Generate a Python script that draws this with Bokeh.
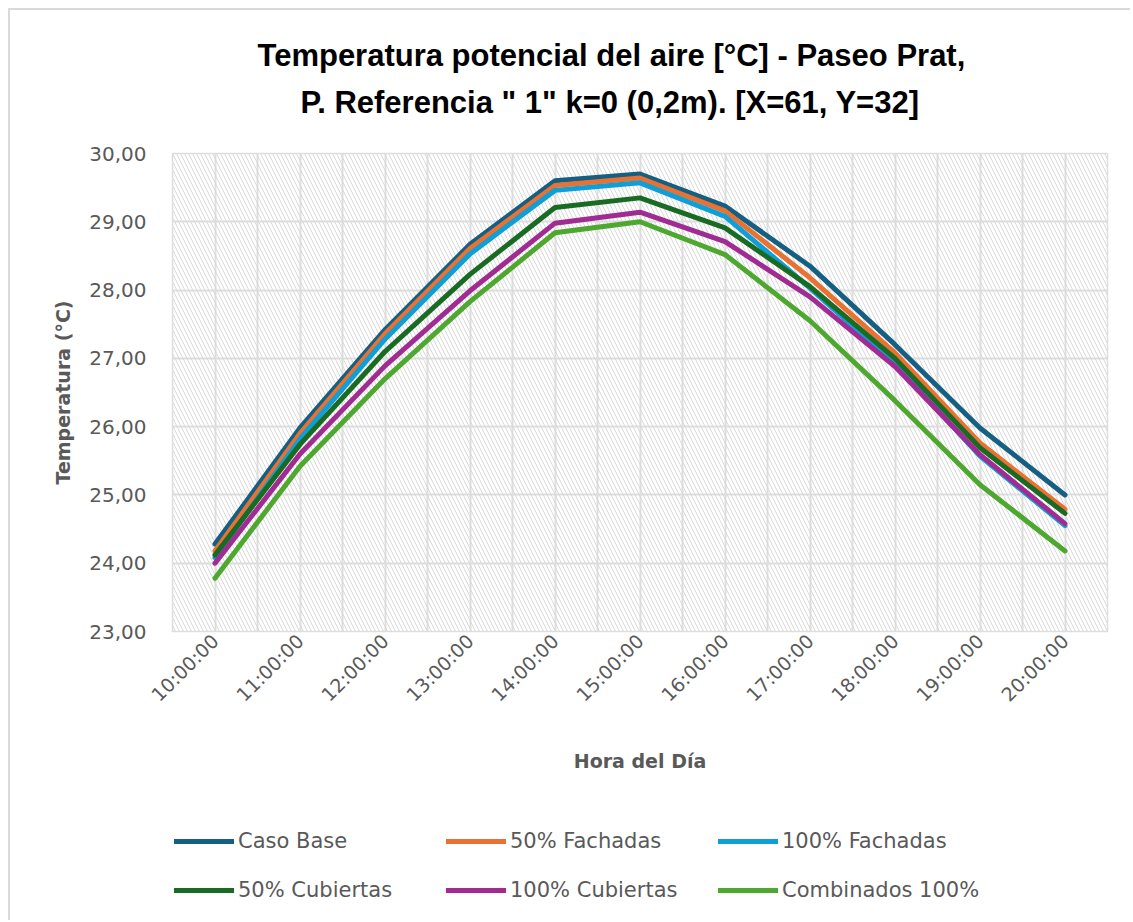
from bokeh.plotting import figure
from bokeh.layouts import column
from bokeh.models import (FactorRange, Range1d, FixedTicker, Legend, LegendItem,
                          BoxAnnotation, Title)
from bokeh.embed import file_html
from bokeh.resources import INLINE

hours = ["10:00:00", "11:00:00", "12:00:00", "13:00:00", "14:00:00", "15:00:00",
         "16:00:00", "17:00:00", "18:00:00", "19:00:00", "20:00:00"]

caso_base = [24.28, 25.98, 27.42, 28.67, 29.60, 29.70, 29.23, 28.35, 27.20, 25.98, 25.00]
fachadas_50 = [24.18, 25.90, 27.36, 28.61, 29.53, 29.64, 29.16, 28.18, 27.08, 25.76, 24.79]
fachadas_100 = [24.08, 25.82, 27.28, 28.53, 29.46, 29.57, 29.08, 28.03, 26.92, 25.57, 24.55]
cubiertas_50 = [24.12, 25.74, 27.10, 28.23, 29.21, 29.35, 28.91, 28.05, 27.00, 25.69, 24.73]
cubiertas_100 = [24.00, 25.60, 26.89, 27.99, 28.98, 29.14, 28.71, 27.90, 26.88, 25.59, 24.58]
combinados_100 = [23.78, 25.42, 26.70, 27.83, 28.84, 29.00, 28.52, 27.55, 26.38, 25.15, 24.18]

series_names = ["Caso Base", "50% Fachadas", "100% Fachadas",
                "50% Cubiertas", "100% Cubiertas", "Combinados 100%"]
series_values = [caso_base, fachadas_50, fachadas_100, cubiertas_50, cubiertas_100, combinados_100]
series_colors = ["#156082", "#E97132", "#0F9ED5", "#196B24", "#A02B93", "#4EA72E"]

y_ticks = [23, 24, 25, 26, 27, 28, 29, 30]
y_tick_labels = ["23,00", "24,00", "25,00", "26,00", "27,00", "28,00", "29,00", "30,00"]

title_lines = ["Temperatura potencial del aire [°C] - Paseo Prat,",
               "P. Referencia \" 1\" k=0 (0,2m). [X=61, Y=32]"]
x_title = "Hora del Día"
y_title = "Temperatura (°C)"

GRID = "#dedede"
TXT = "#595959"
FONT = "DejaVu Sans"
TFONT = "Liberation Sans"

p = figure(width=1120, height=812, output_backend="svg", toolbar_location=None,
           x_range=FactorRange(factors=hours, range_padding=0),
           y_range=Range1d(23, 30),
           min_border_left=162, min_border_right=23, min_border_top=143,
           min_border_bottom=191)

p.outline_line_color = GRID
p.outline_line_width = 1.5
p.background_fill_color = "white"

# hatched plot-area background
p.add_layout(BoxAnnotation(left=0, right=11, bottom=23, top=30,
                           fill_alpha=0, line_alpha=0,
                           hatch_pattern="\\", hatch_color="#d9d9d9",
                           hatch_scale=8, hatch_weight=1, level="underlay"))

# grids
p.xgrid.ticker = FixedTicker(ticks=[i * 0.5 for i in range(23)])
p.xgrid.grid_line_color = GRID
p.xgrid.grid_line_width = 2
p.ygrid.ticker = FixedTicker(ticks=y_ticks)
p.ygrid.grid_line_color = GRID
p.ygrid.grid_line_width = 2

for name, vals, col in zip(series_names, series_values, series_colors):
    p.line(x=hours, y=vals, line_color=col, line_width=5,
           line_join="round", line_cap="round", name=name)

# axes
p.yaxis.ticker = FixedTicker(ticks=y_ticks)
p.yaxis.major_label_overrides = {t: l for t, l in zip(y_ticks, y_tick_labels)}
for ax in (p.xaxis, p.yaxis):
    ax.axis_line_color = None
    ax.major_tick_line_color = None
    ax.minor_tick_line_color = None
    ax.major_tick_in = 0
    ax.major_tick_out = 0
    ax.major_label_text_color = TXT
    ax.major_label_text_font = FONT
    ax.major_label_text_font_size = "20px"
    ax.axis_label_text_color = TXT
    ax.axis_label_text_font = FONT
    ax.axis_label_text_font_style = "bold"
    ax.axis_label_text_font_size = "19px"
p.yaxis.major_label_standoff = 26
p.yaxis.axis_label = y_title
p.yaxis.axis_label_standoff = 12
p.xaxis.axis_label = x_title
p.xaxis.major_label_text_font_size = "19px"
p.xaxis.major_label_orientation = 0.785398
p.xaxis.major_label_standoff = 6
p.xaxis.axis_label_standoff = 34

# title lines (nearest the plot first), with a spacer next to the plot area
p.add_layout(Title(text=" ", standoff=0, text_font_size="24px"), "above")
p.add_layout(Title(text=title_lines[1], align="left", offset=128, standoff=10,
                   text_font=TFONT, text_font_style="bold", text_font_size="31px",
                   text_color="#000000"), "above")
p.add_layout(Title(text=title_lines[0], align="left", offset=85, standoff=10,
                   text_font=TFONT, text_font_style="bold", text_font_size="31px",
                   text_color="#000000"), "above")

# legend strip below the chart (its series lie outside its visible y range)
pl = figure(width=1120, height=98, output_backend="svg", toolbar_location=None,
            x_range=FactorRange(factors=hours, range_padding=0), y_range=Range1d(0, 1),
            x_axis_location=None, y_axis_location=None, min_border=0)
pl.grid.visible = False
pl.outline_line_color = None
key_renderers = [pl.line(x=hours, y=vals, line_color=c, line_width=5, line_cap="round")
                 for vals, c in zip(series_values, series_colors)]

def make_legend(idx, loc):
    items = [LegendItem(label=series_names[i], renderers=[key_renderers[i]]) for i in idx]
    return Legend(items=items, orientation="horizontal", location=loc,
                  spacing=0, padding=0, margin=0,
                  glyph_width=60, glyph_height=20, label_standoff=4,
                  label_width=208, label_text_font=FONT, label_text_font_size="21px",
                  label_text_color=TXT, border_line_alpha=0, background_fill_alpha=0)

pl.add_layout(make_legend([0, 1, 2], (2, 67)), "center")
pl.add_layout(make_legend([3, 4, 5], (2, 18)), "center")

layout = column(p, pl, spacing=0,
                styles={"margin-left": "8px", "margin-top": "8px",
                        "border-left": "2px solid #d9d9d9",
                        "border-top": "2px solid #d9d9d9"})

open("out.html", "w").write(file_html(layout, INLINE))
